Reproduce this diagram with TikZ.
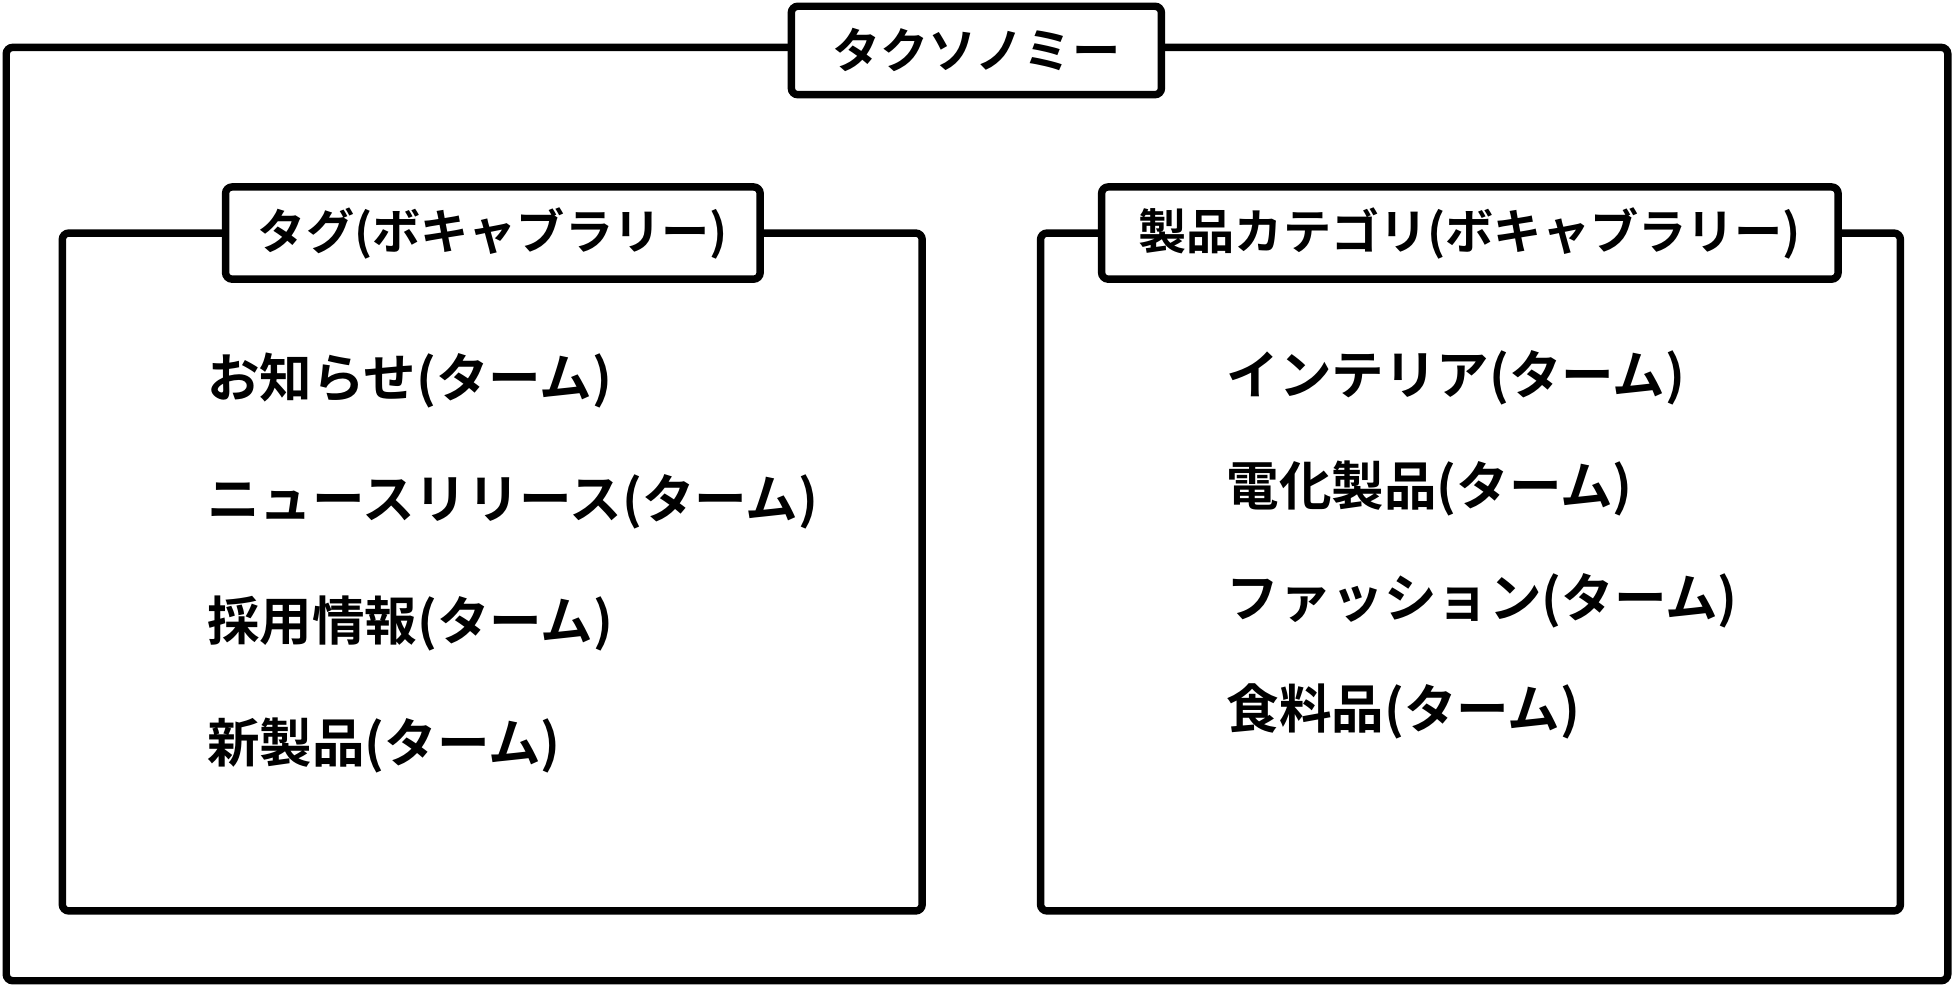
\documentclass[tikz,border=0pt]{standalone}
\usepackage{fontspec}
\newfontfamily\jp{Noto Sans CJK JP}[BoldFont={* Bold}]
\begin{document}
\begin{tikzpicture}[x=0.02cm,y=-0.02cm,
  frame/.style={draw,line width=3.4pt,rounded corners=3pt,fill=white},
  lbl/.style={font=\jp\bfseries\fontsize{22}{26}\selectfont},
  item/.style={font=\jp\bfseries\fontsize{24}{28}\selectfont,anchor=west}]
\useasboundingbox (0,0) rectangle (1568,791);
\draw[frame] (5,38) rectangle (1563,787);
\draw[frame] (635,5) rectangle (932,76);
\node[lbl] (t) at (783.5,40) {タクソノミー};
\draw[frame] (50,187) rectangle (740,731);
\draw[frame] (181,150) rectangle (610,224);
\node[lbl] (l) at (395.5,187) {タグ(ボキャブラリー)};
\draw[frame] (835,187) rectangle (1525,731);
\draw[frame] (884,150) rectangle (1475,224);
\node[lbl] (r) at (1179.5,187) {製品カテゴリ(ボキャブラリー)};
\node[item] (a1) at (160,305) {お知らせ(ターム)};
\node[item] (a2) at (160,403) {ニュースリリース(ターム)};
\node[item] (a3) at (160,500) {採用情報(ターム)};
\node[item] (a4) at (160,598) {新製品(ターム)};
\node[item] (b1) at (978,303) {インテリア(ターム)};
\node[item] (b2) at (978,392) {電化製品(ターム)};
\node[item] (b3) at (978,482) {ファッション(ターム)};
\node[item] (b4) at (978,571) {食料品(ターム)};
\end{tikzpicture}
\end{document}
